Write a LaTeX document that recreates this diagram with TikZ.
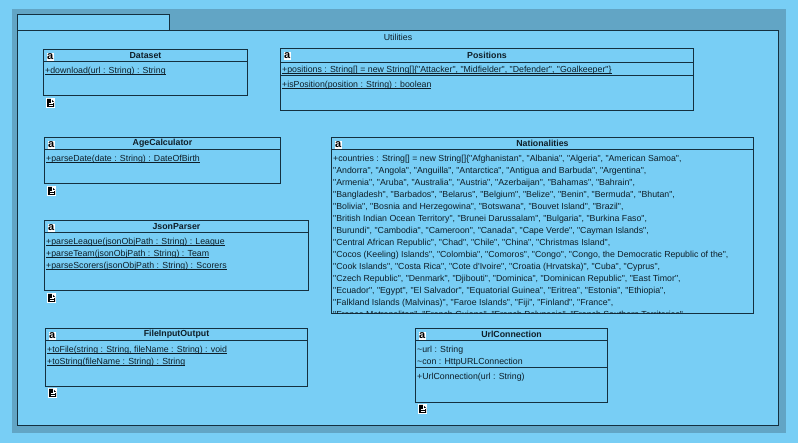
\documentclass[tikz,border=0pt]{standalone}
\usepackage{fontspec}
\usetikzlibrary{positioning}
\newfontfamily\umlfont{Liberation Sans}
\definecolor{sheet_blue}{HTML}{78CEF5}
\definecolor{shadow_blue}{HTML}{62A5C5}
\definecolor{line_dark}{HTML}{14303F}
\definecolor{text_dark}{HTML}{0E1E28}
\tikzset{
        umltext/.style={font=\umlfont\fontsize{8.78}{12}\selectfont, text=text_dark},
        % Package
        package_part/.style={rectangle, draw=line_dark, fill=sheet_blue, anchor=north west, outer sep=0pt, inner sep=0pt},
        package_label/.style={umltext, inner sep=0pt, minimum height=13pt},
        % Class boxes
        class_box/.style={rectangle, draw=line_dark, anchor=north west, outer sep=0pt, inner sep=0pt},
        class_title/.style={umltext, font=\umlfont\bfseries\fontsize{8.78}{12}\selectfont, inner sep=0pt, outer sep=0pt, minimum height=12pt},
        class_line/.style={draw=line_dark},
        % Members of a class
        class_member/.style={umltext, align=left, anchor=north west, inner xsep=1.5pt, inner ysep=3.3pt},
        % Small icons
        class_icon/.style={rectangle, fill=white, text=black, anchor=north west, inner sep=0pt, minimum width=7pt, minimum height=8.5pt, font=\umlfont\bfseries\fontsize{11}{11}\selectfont},
        note_icon/.pic={
            \fill[white] (0,0) rectangle (9,10);
            \fill[black] (1,1) -- (5,1) -- (8,4) -- (8,9) -- (1,9) -- cycle;
            \draw[white, line width=0.8pt] (5,1.5) -- (5,4) -- (7.5,4);
            \draw[white, line width=0.8pt] (2.5,5.5) -- (6.5,5.5) (2.5,7.5) -- (6.5,7.5);
        }
}
\newsavebox{\statbox}
\newcommand{\stat}[1]{\sbox{\statbox}{#1}\rlap{\rule[-1.6pt]{\wd\statbox}{0.8pt}}\usebox{\statbox}}
\begin{document}
\begin{tikzpicture}[x=1pt, y=-1pt]
            \useasboundingbox (0,0) rectangle (798,443);
            \fill[sheet_blue] (0,0) rectangle (798,443);
            \fill[shadow_blue] (12,9) rectangle (786,433);
            % Package
            \node[package_part, minimum width=152pt, minimum height=16pt] (utilities_tab) at (17.5,14.5) {};
            \node[package_part, minimum width=761pt, minimum height=395pt] (utilities) at (17.5,30.5) {};
            \node[package_label, below=0pt of utilities.north] (utilities_label) {Utilities};

            % Dataset
            \node[class_box, minimum width=204pt, minimum height=46pt] (dataset) at (43.5,49.5) {};
            \node[class_title, below=0pt of dataset.north] (dataset_title) {Dataset};
            \draw[class_line] (dataset_title.south -| dataset.west) -- (dataset_title.south -| dataset.east);
            \node[class_member] (dataset_ops) at (dataset_title.south -| dataset.west) {\strut\stat{+download(url : String) : String}};
            \node[class_icon] (dataset_icon) at ([shift={(3,3)}]dataset.north west) {a};
            \pic at (46,98) {note_icon};

            % Positions
            \node[class_box, minimum width=413pt, minimum height=62pt] (positions) at (280.5,48.5) {};
            \node[class_title, minimum height=14pt, below=0pt of positions.north] (positions_title) {Positions};
            \draw[class_line] (positions_title.south -| positions.west) -- (positions_title.south -| positions.east);
            \node[class_member, yshift=2pt] (positions_attrs) at (positions_title.south -| positions.west) {\strut\stat{+positions : String[] = new String[]\{"Attacker", "Midfielder", "Defender", "Goalkeeper"\}}};
            \coordinate (positions_split) at (280.5,75.5);
            \draw[class_line] (positions_split) -- (positions_split -| positions.east);
            \node[class_member] (positions_ops) at (positions_split) {\strut\stat{+isPosition(position : String) : boolean}};
            \node[class_icon] (positions_icon) at ([shift={(3,3)}]positions.north west) {a};

            % AgeCalculator
            \node[class_box, minimum width=236pt, minimum height=46pt] (agecalc) at (44.5,137.5) {};
            \node[class_title, below=0pt of agecalc.north] (agecalc_title) {AgeCalculator};
            \draw[class_line] (agecalc_title.south -| agecalc.west) -- (agecalc_title.south -| agecalc.east);
            \node[class_member] (agecalc_ops) at (agecalc_title.south -| agecalc.west) {\strut\stat{+parseDate(date : String) : DateOfBirth}};
            \node[class_icon] (agecalc_icon) at ([shift={(3,3)}]agecalc.north west) {a};
            \pic at (47,186) {note_icon};

            % Nationalities
            \node[class_box, minimum width=422pt, minimum height=176pt] (nationalities) at (331.5,137.5) {};
            \node[class_title, below=0pt of nationalities.north] (nationalities_title) {Nationalities};
            \draw[class_line] (nationalities_title.south -| nationalities.west) -- (nationalities_title.south -| nationalities.east);
            \begin{scope}
                \clip (nationalities.north west) rectangle (nationalities.south east);
                \node[class_member] (nationalities_attrs) at (nationalities_title.south -| nationalities.west) {\strut+countries : String[] = new String[]\{"Afghanistan", "Albania", "Algeria", "American Samoa",\\
                    "Andorra", "Angola", "Anguilla", "Antarctica", "Antigua and Barbuda", "Argentina",\\
                    "Armenia", "Aruba", "Australia", "Austria", "Azerbaijan", "Bahamas", "Bahrain",\\
                    "Bangladesh", "Barbados", "Belarus", "Belgium", "Belize", "Benin", "Bermuda", "Bhutan",\\
                    "Bolivia", "Bosnia and Herzegowina", "Botswana", "Bouvet Island", "Brazil",\\
                    "British Indian Ocean Territory", "Brunei Darussalam", "Bulgaria", "Burkina Faso",\\
                    "Burundi", "Cambodia", "Cameroon", "Canada", "Cape Verde", "Cayman Islands",\\
                    "Central African Republic", "Chad", "Chile", "China", "Christmas Island",\\
                    "Cocos (Keeling) Islands", "Colombia", "Comoros", "Congo", "Congo, the Democratic Republic of the",\\
                    "Cook Islands", "Costa Rica", "Cote d'Ivoire", "Croatia (Hrvatska)", "Cuba", "Cyprus",\\
                    "Czech Republic", "Denmark", "Djibouti", "Dominica", "Dominican Republic", "East Timor",\\
                    "Ecuador", "Egypt", "El Salvador", "Equatorial Guinea", "Eritrea", "Estonia", "Ethiopia",\\
                    "Falkland Islands (Malvinas)", "Faroe Islands", "Fiji", "Finland", "France",\\
                    "France Metropolitan", "French Guiana", "French Polynesia", "French Southern Territories",};
            \end{scope}
            \node[class_icon] (nationalities_icon) at ([shift={(3,3)}]nationalities.north west) {a};

            % JsonParser
            \node[class_box, minimum width=264pt, minimum height=70pt] (jsonparser) at (44.5,220.5) {};
            \node[class_title, below=0pt of jsonparser.north] (jsonparser_title) {JsonParser};
            \draw[class_line] (jsonparser_title.south -| jsonparser.west) -- (jsonparser_title.south -| jsonparser.east);
            \node[class_member] (jsonparser_ops) at (jsonparser_title.south -| jsonparser.west) {\strut\stat{+parseLeague(jsonObjPath : String) : League}\\
                \stat{+parseTeam(jsonObjPath : String) : Team}\\
                \stat{+parseScorers(jsonObjPath : String) : Scorers}};
            \node[class_icon] (jsonparser_icon) at ([shift={(3,3)}]jsonparser.north west) {a};
            \pic at (47,293) {note_icon};

            % FileInputOutput
            \node[class_box, minimum width=262pt, minimum height=58pt] (fileio) at (45.5,328.5) {};
            \node[class_title, below=0pt of fileio.north] (fileio_title) {FileInputOutput};
            \draw[class_line] (fileio_title.south -| fileio.west) -- (fileio_title.south -| fileio.east);
            \node[class_member] (fileio_ops) at (fileio_title.south -| fileio.west) {\strut\stat{+toFile(string : String, fileName : String) : void}\\
                \stat{+toString(fileName : String) : String}};
            \node[class_icon] (fileio_icon) at ([shift={(3,3)}]fileio.north west) {a};
            \pic at (48,388) {note_icon};

            % UrlConnection
            \node[class_box, minimum width=192pt, minimum height=74pt] (urlconn) at (415.5,328.5) {};
            \node[class_title, below=0pt of urlconn.north] (urlconn_title) {UrlConnection};
            \draw[class_line] (urlconn_title.south -| urlconn.west) -- (urlconn_title.south -| urlconn.east);
            \node[class_member] (urlconn_attrs) at (urlconn_title.south -| urlconn.west) {\strut\textasciitilde url : String\\
                \textasciitilde con : HttpURLConnection};
            \coordinate (urlconn_split) at (415.5,367.5);
            \draw[class_line] (urlconn_split) -- (urlconn_split -| urlconn.east);
            \node[class_member] (urlconn_ops) at (urlconn_split) {\strut+UrlConnection(url : String)};
            \node[class_icon] (urlconn_icon) at ([shift={(3,3)}]urlconn.north west) {a};
            \pic at (418,404) {note_icon};
        \end{tikzpicture}
\end{document}
